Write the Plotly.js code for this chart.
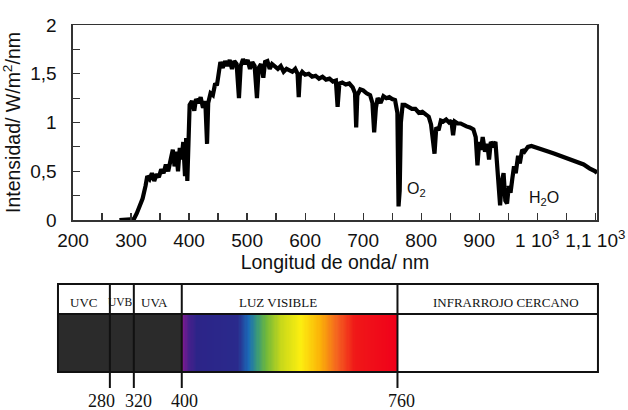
<!DOCTYPE html>
<html><head><meta charset="utf-8">
<script src="https://cdn.plot.ly/plotly-3.0.1.min.js"></script>
<style>html,body{margin:0;padding:0;background:#fff}#chart{width:628px;height:410px}</style>
</head><body><div id="chart"></div>
<script>
// Solar spectral irradiance
const wavelength = [280,290,300,305,310,315,320,325,328,332,336,340,344,348,352,356,360,364,368,372,375,378,381,384,387,390,393,395,397,399,
401,405,409,412,416,420,424,428,431,433,437,441,445,448,451,454,458,462,466,470,474,478,482,486,489,493,497,501,505,509,513,517,520,524,528,531,535,539,543,548,553,558,563,568,573,578,583,587,589,591,595,
600,606,612,618,624,630,636,642,648,653,656,659,664,670,676,682,686,688,690,695,700,706,712,716,719,722,725,730,735,740,745,750,755,759,761,763,765,768,772,778,784,790,796,
802,808,813,817,820,823,826,830,834,838,843,848,852,855,858,863,868,873,878,884,890,894,897,900,903,906,910,914,917,920,924,928,931,934,936,939,942,945,948,951,954,957,960,963,967,970,974,978,984,990,996,
1002,1010,1020,1030,1040,1050,1060,1070,1080,1090,1095,1100,1103];
const irradiance = [0,0,0,0.01,0.07,0.15,0.22,0.35,0.45,0.42,0.48,0.40,0.47,0.44,0.52,0.48,0.57,0.50,0.62,0.72,0.55,0.70,0.50,0.74,0.62,0.80,0.45,0.84,0.40,0.75,
1.18,1.22,1.12,1.24,1.20,1.26,1.15,1.22,0.78,1.20,1.30,1.28,1.40,1.38,1.55,1.62,1.56,1.63,1.58,1.64,1.55,1.63,1.60,1.25,1.58,1.65,1.60,1.64,1.55,1.62,1.58,1.25,1.56,1.60,1.46,1.62,1.63,1.55,1.60,1.57,1.55,1.58,1.52,1.55,1.53,1.52,1.55,1.50,1.26,1.48,1.52,
1.49,1.50,1.47,1.48,1.45,1.47,1.44,1.45,1.42,1.43,1.16,1.40,1.41,1.39,1.40,1.36,1.30,0.95,1.28,1.34,1.33,1.30,1.28,1.20,0.90,1.15,1.25,1.20,1.27,1.25,1.26,1.24,1.23,1.10,0.14,0.30,1.00,1.18,1.18,1.16,1.14,1.14,1.10,
1.11,1.08,1.06,0.98,0.80,0.68,0.95,0.92,1.02,1.01,1.03,1.00,1.02,0.87,1.01,0.99,0.99,0.97,0.96,0.95,0.93,0.85,0.56,0.80,0.72,0.85,0.70,0.78,0.62,0.80,0.77,0.80,0.50,0.30,0.15,0.40,0.48,0.20,0.17,0.35,0.28,0.42,0.55,0.48,0.66,0.58,0.72,0.70,0.75,0.76,0.75,
0.73,0.72,0.70,0.68,0.66,0.64,0.62,0.59,0.57,0.53,0.52,0.50,0.48];

const xTickVals = [200,300,400,500,600,700,800,900,1000,1100];
const xTickText = ['200','300','400','500','600','700','800','900','1 10<sup>3</sup>','1,1 10<sup>3</sup>'];
const yTickVals = [0,0.5,1,1.5,2];
const yTickText = ['0','0,5','1','1,5','2'];

const absorbers = ['O<sub>2</sub>','H<sub>2</sub>O'];
const absorberX = [772,1012];
const absorberY = [0.31,0.22];

// Spectral bands (nm)
const bandEdges = [280,320,400,760];
const bandNames = ['UVC','UVB','UVA','LUZ VISIBLE','INFRARROJO CERCANO'];
const visibleRange = [400,760];

// layout constants
const bandBox = [193.4,1094.6];
const bandAxisRange = [190.1,1098.0];
const headerY = 0.659;
const labelShift = [0,-1,-3,-12,8];
const labelSize = [13,11.5,13,13,13];
const edgeLabelShift = [-8,5,3,4];

const sans = 'Liberation Sans, Arial, sans-serif';
const serif = 'Liberation Serif, Times New Roman, serif';

// visible gradient as heatmap (sampled across the visible band)
const gx = [], gz = [];
for (let w = visibleRange[0]; w <= visibleRange[1]; w += 2) gx.push(w);
for (let i = 0; i < gx.length - 1; i++) gz.push((gx[i] + gx[i+1]) / 2);

const spectrumScale = [
  [0.00,'#8a1a92'],[0.03,'#4a1f8c'],[0.07,'#2c2488'],[0.26,'#2a2a8c'],
  [0.31,'#1a6cb8'],[0.35,'#3a9a78'],[0.39,'#70b83a'],[0.46,'#c8d81a'],
  [0.55,'#fcee10'],[0.64,'#fbb208'],[0.72,'#f46220'],[0.80,'#f01818'],[1.00,'#f0001a']
];

const traces = [
  {x: wavelength, y: irradiance, type:'scatter', mode:'lines',
   line:{color:'#000', width:4.2}, hoverinfo:'skip', xaxis:'x', yaxis:'y'},
  {x: gx, y:[0, headerY], z:[gz], type:'heatmap', colorscale: spectrumScale,
   zmin: visibleRange[0], zmax: visibleRange[1], showscale:false, hoverinfo:'skip',
   xaxis:'x2', yaxis:'y2'}
];

const shapes = [];
shapes.push({type:'rect', xref:'x2', yref:'y2', x0: bandBox[0], x1: bandEdges[2], y0:0, y1:headerY,
  fillcolor:'#2b2b2b', line:{width:0}, layer:'below'});
shapes.push({type:'rect', xref:'x2', yref:'y2', x0: bandBox[0], x1: bandBox[1], y0:0, y1:1,
  line:{color:'#111', width:2}, fillcolor:'rgba(0,0,0,0)'});
shapes.push({type:'line', xref:'x2', yref:'y2', x0: bandBox[0], x1: bandBox[1], y0:headerY, y1:headerY,
  line:{color:'#111', width:2}});
bandEdges.forEach(e => shapes.push({type:'line', xref:'x2', yref:'y2', x0:e, x1:e, y0:-0.182, y1:1,
  line:{color:'#111', width:2}}));

const annotations = [];
absorbers.forEach((t,i) => annotations.push({x:absorberX[i], y:absorberY[i], xref:'x', yref:'y', text:t,
  showarrow:false, xanchor: i===0 ? 'left' : 'center', font:{family:sans, size:16, color:'#111'}}));

const cells = [bandBox[0]].concat(bandEdges, [bandBox[1]]);
bandNames.forEach((n,i) => annotations.push({x:(cells[i]+cells[i+1])/2, y:0.795, xref:'x2', yref:'y2',
  text:n, showarrow:false, xshift: labelShift[i], font:{family:serif, size:labelSize[i], color:'#111'}}));
bandEdges.forEach((e,i) => annotations.push({x:e, y:0.0227, xref:'x2', yref:'paper', text:String(e),
  showarrow:false, xanchor:'center', yanchor:'middle', xshift: edgeLabelShift[i],
  font:{family:serif, size:18, color:'#111'}}));

const layout = {
  width:628, height:410, margin:{l:0,r:0,t:0,b:0},
  paper_bgcolor:'#fff', plot_bgcolor:'#fff', showlegend:false,
  font:{family:sans, color:'#111'},
  xaxis:{domain:[0.11624,0.95064], range:[200,1103], anchor:'y',
    showline:true, mirror:true, linecolor:'#333', linewidth:1.5, showgrid:false, zeroline:false,
    ticks:'inside', ticklen:7, tickwidth:1.2, tickcolor:'#333',
    tickvals:xTickVals, ticktext:xTickText, tickfont:{family:sans, size:19, color:'#111'},
    ticklabelstandoff:3,
    minor:{dtick:50, tick0:200, ticks:'inside', ticklen:7, tickwidth:1.2, tickcolor:'#333', showgrid:false},
    title:{text:'Longitud de onda/ nm', font:{family:sans, size:19.5, color:'#111'}, standoff:0}},
  yaxis:{domain:[0.46341,0.93902], range:[0,2], anchor:'x',
    showline:true, mirror:true, linecolor:'#333', linewidth:1.5, showgrid:false, zeroline:false,
    ticks:'inside', ticklen:7, tickwidth:1.2, tickcolor:'#333',
    tickvals:yTickVals, ticktext:yTickText, tickfont:{family:sans, size:19, color:'#111'},
    ticklabelstandoff:11,
    minor:{dtick:0.25, tick0:0, ticks:'inside', ticklen:7, tickwidth:1.2, tickcolor:'#333', showgrid:false},
    title:{text:'Intensidad/ W/m<sup>2</sup>/nm', font:{family:sans, size:19.5, color:'#111'}, standoff:4}},
  xaxis2:{domain:[0.08917,0.95541], range:bandAxisRange, anchor:'y2', visible:false},
  yaxis2:{domain:[0.04878,0.31220], range:[-0.2045,1.0227], anchor:'x2', visible:false},
  shapes: shapes,
  annotations: annotations
};

Plotly.newPlot('chart', traces, layout, {staticPlot:true, displayModeBar:false});
</script></body></html>
